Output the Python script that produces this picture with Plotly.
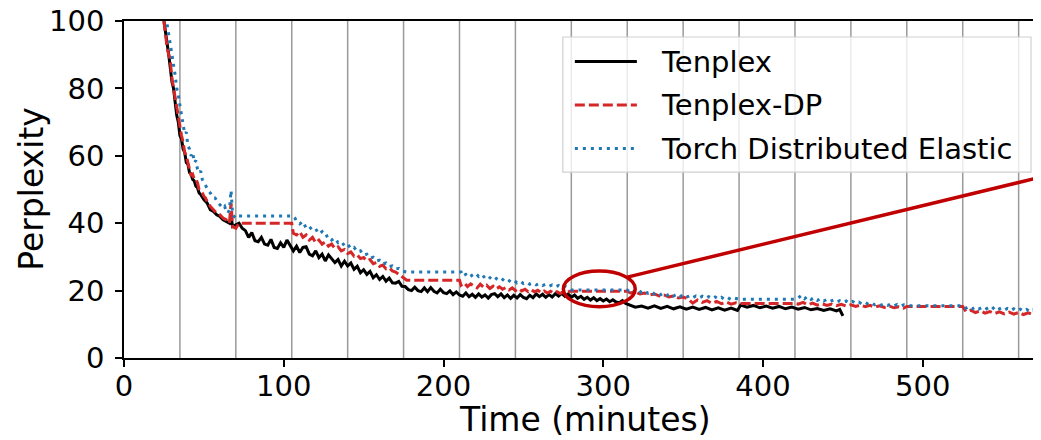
import plotly.graph_objects as go

# Perplexity over time
tenplex_t = [25, 26, 27, 28, 29, 30, 31, 32, 33, 34, 35, 36, 37, 38, 39, 40, 41, 42, 43, 44,
             45, 46, 47, 48, 49, 50, 52, 54, 56, 58, 60, 62, 64, 66, 67, 68, 70,
             72, 74, 76, 78, 80, 82, 84, 86, 88, 90, 92, 94, 96, 98, 100, 102, 104, 106, 108,
             110, 112, 114, 116, 118, 120, 122, 124, 126, 128, 130, 132, 134, 136, 138, 140,
             142, 144, 146, 148, 150, 152, 154, 156, 158, 160, 162, 164, 166, 168, 170, 172,
             174, 176, 178, 180, 182, 184, 186, 188, 190, 192, 194, 196, 198, 200, 202, 204,
             206, 208, 210, 212, 214, 216, 218, 220, 222, 224, 226, 228, 230, 232, 234, 236,
             238, 240, 242, 244, 246, 248, 250, 252, 254, 256, 258, 260, 262, 264, 266, 268,
             270, 272, 274, 276, 278, 280, 282, 284, 286, 288, 290, 292, 294, 296, 298, 300,
             302, 304, 306, 308, 310, 312, 314, 316, 318, 320,
             324, 328, 332, 336, 340, 344, 348, 352, 356, 360, 364, 368, 372, 376, 380, 384,
             386, 390, 394, 398, 402, 406, 410, 414, 418, 422, 426, 430, 434, 438, 442, 446,
             448, 450]
tenplex_ppl = [100, 97, 93, 90, 86, 82, 80, 76, 72, 70, 66, 65, 62, 61, 58, 57.5, 55, 54.5, 53, 52.5,
               51, 50.5, 49, 48.5, 47.5, 47, 46, 44, 43.5, 42.5, 42, 41, 40.5, 40, 42, 39, 39.5,
               40, 38.5, 37.8, 35.8, 37.2, 34.8, 34.5, 35.8, 33.8, 33.5, 35.2, 32.8, 32.5, 34.2, 32.8, 35, 33.2, 31.8, 33.2,
               31.3, 32.8, 33, 30.8, 30.3, 31.8, 29.8, 30.8, 28.8, 30.6, 29.3, 28.3, 29.2, 27.3, 28.7, 27.3,
               28.2, 26.3, 27.2, 25.3, 26.2, 24.8, 25.7, 23.8, 24.7, 23.3, 24.2, 22.8, 23.7, 22.3, 22.2, 22.7,
               21.3, 21.2, 20.3, 20, 21, 20, 19.7, 20.8, 19.7, 20.9, 19.8, 19.3, 20.4, 19.4, 19.1, 19.9,
               18.8, 19.6, 18.7, 18.3, 19.3, 18.2, 18.9, 18, 19, 18.1, 18.7, 17.8, 18.8, 19.1, 18.2, 19,
               17.9, 18.7, 17.7, 18.6, 17.8, 18.8, 18, 17.6, 18.6, 17.9, 19, 18.2, 18.9, 18, 18.8, 18.1,
               19.1, 18.4, 19.2, 18.3, 19, 18, 18.7, 17.7, 18.3, 17.4, 18, 17.2, 17.9, 17, 17.6, 16.9,
               17.5, 16.7, 17.3, 16.6, 16.4, 17, 16.2, 15.8, 15.4, 15.1,
               15.4, 14.8, 15.5, 14.7, 15.3, 14.6, 15.2, 14.5, 15.1, 14.4, 15.0, 14.3, 14.9, 14.2, 14.8, 14.1,
               15.7, 15.1, 15.6, 14.9, 15.4, 14.8, 15.3, 14.6, 15.1, 14.5, 15.0, 14.3, 14.7, 14.1, 14.6, 14.0,
               14.4, 12.5]

dp_t = [25, 26, 27, 28, 29, 30, 31, 32, 33, 34, 35, 36, 37, 38, 39, 40, 41, 42, 43, 44,
        45, 46, 47, 48, 49, 50, 51, 52, 54, 56, 58, 60, 62, 64, 66, 67, 68, 70, 72,
        73, 105,
        106, 108, 110, 112, 114, 116, 118, 120, 122, 124, 126, 128, 130, 132, 134, 136, 138, 140,
        142, 144, 146, 148, 150, 152, 154, 156, 158, 160, 162, 164, 166, 168, 170, 172, 174, 176,
        177, 210,
        211, 213, 215, 217, 219, 221, 223, 225, 227, 229, 231, 233, 235, 237, 239, 241, 243, 245,
        247, 249, 251, 253, 255, 257, 259, 261, 263, 265, 267, 269, 271, 273, 275, 277, 279,
        280, 315,
        317, 320, 323, 326, 329, 332, 335, 338, 341, 344, 347, 350, 353, 356, 359, 362, 365, 368,
        371, 374, 377, 380, 383,
        385, 420,
        422, 425, 428, 431, 434, 437, 440, 443, 446, 449, 452, 455, 458, 461, 464, 467, 470, 473,
        476, 479, 482, 485, 488,
        490, 525,
        527, 530, 533, 536, 539, 542, 545, 548, 551, 554, 557, 560, 563, 566, 569, 572, 575]
dp_ppl = [100, 96, 92, 90, 88, 83, 80, 78, 74, 71, 68, 66, 64, 61, 60, 58, 56, 54, 54.5, 53,
          53, 52, 50, 49.5, 49, 48, 47.5, 46.5, 45, 44, 43, 42.5, 41.5, 41, 40, 46, 39, 38.5, 40,
          40, 40,
          37, 36.5, 37.5, 35.8, 36.5, 35, 35.8, 34.2, 35, 33.8, 34.5, 33.2, 33.8, 32.5, 33, 31.8, 32.2, 31,
          31.5, 30.2, 30.6, 29.5, 29.8, 28.8, 29.2, 28, 28.3, 27.2, 27.6, 26.5, 26.8, 25.8, 25.5, 24.8, 24.2, 23.4,
          23.1, 23.1,
          21.6, 22.3, 21.2, 22, 21.4, 20.8, 21.9, 21, 21.6, 20.6, 21.3, 20.5, 21.1, 20.4, 20.9, 20.2, 20.8, 20.0,
          20.6, 19.9, 20.4, 19.7, 20.3, 19.6, 20.1, 19.4, 19.9, 19.3, 19.8, 19.2, 19.7, 19.1, 19.6, 19.3, 19.8,
          19.8, 19.8,
          19.3, 19.6, 19, 19.3, 18.7, 19, 18.4, 18.7, 18.1, 18.4, 17.8, 18.1, 17.5, 16.3, 17.2, 16.5, 17, 16.2,
          16.8, 16.1, 16.6, 16, 16.4,
          16.2, 16.2,
          16.0, 16.5, 15.8, 16.3, 15.7, 16.1, 15.6, 16.0, 15.5, 15.9, 15.4, 15.8, 15.3, 15.7, 15.2, 15.6, 15.1, 15.5,
          15.0, 15.4, 14.9, 15.2, 14.8,
          15.3, 15.3,
          13.8, 14.2, 13.5, 14.0, 13.3, 13.8, 13.2, 13.7, 13.1, 13.6, 13.0, 13.5, 12.9, 13.4, 12.8, 13.3, 13.0]

tde_t = [27, 28, 29, 30, 31, 32, 33, 34, 35, 36, 37, 38, 39, 40, 41, 42, 43, 44, 45, 46,
         47, 48, 49, 50, 51, 52, 53, 54, 55, 56, 57, 58, 59, 60, 61, 62, 63, 64, 65, 66,
         67, 68, 69, 70, 71,
         106,
         107, 108, 110, 112, 114, 116, 118, 120, 122, 124, 126, 128, 130, 132, 134, 136, 138, 140,
         142, 144, 146, 148, 150, 152, 154, 156, 158, 160, 162, 164, 166, 168, 170, 172, 174, 176,
         177, 211,
         212, 214, 216, 218, 220, 222, 224, 226, 228, 230, 232, 234, 236, 238, 240, 242, 244, 246,
         248, 250, 252, 254, 256, 258, 260, 262, 264, 266, 268, 270, 272, 274, 276, 278,
         280, 315,
         316, 318, 320, 322, 324, 326, 328, 330, 332, 334, 336, 338, 340, 342, 344, 346, 348, 350,
         352, 354, 356, 358, 360, 362, 364, 366, 368, 370, 372, 374, 376, 378, 380, 382, 384,
         385, 420,
         422, 424, 426, 428, 430, 432, 434, 436, 438, 440, 442, 444, 446, 448, 450, 452, 454, 456,
         458, 460, 462, 464, 466, 468, 470, 472, 474, 476, 478, 480, 482, 484, 486, 488,
         490, 525,
         527, 529, 531, 533, 535, 537, 539, 541, 543, 545, 547, 549, 551, 553, 555, 557, 559, 561,
         563, 565, 567, 569, 571, 573, 575]
tde_ppl = [99, 96, 93, 91, 87, 84, 80, 78, 75, 72, 70, 66.5, 67, 63, 62, 60, 61, 58, 58.6, 56,
           55, 55.5, 53, 52, 51, 50.5, 49.5, 49, 48, 47.5, 47.5, 46.5, 46, 45.5, 45, 44.5, 45, 43.5, 43, 44,
           49.7, 42.5, 42, 41.5, 42.1,
           42.1,
           41.5, 40.5, 39.8, 40.5, 38.5, 39, 37.9, 38.3, 36.8, 37.5, 36, 36.4, 35, 35.6, 34.2, 34.6, 33.3, 33.8,
           32.4, 32.8, 31.5, 31.8, 30.5, 30.8, 29.6, 29.9, 28.8, 29, 27.9, 28.2, 27.1, 27.3, 26.4, 26.6, 25.8, 25.6,
           25.5, 25.5,
           24.3, 24.8, 23.9, 24.6, 25.2, 24.2, 24.8, 23.7, 24.3, 23.4, 24, 23.2, 23.7, 22.9, 23.4, 22.6, 23.1, 22.3,
           22.8, 22.1, 22.5, 21.9, 22.3, 21.7, 22.1, 21.5, 21.9, 21.3, 21.7, 21.1, 21.5, 20.9, 21.3, 20.7,
           20.2, 20.2,
           19.9, 20.5, 19.6, 20.2, 19.4, 19.9, 19.2, 19.7, 19.0, 19.5, 18.8, 19.3, 18.6, 19.1, 18.4, 18.9, 18.2, 18.7,
           18.0, 18.5, 17.9, 18.4, 17.8, 18.3, 17.7, 18.2, 17.6, 18.1, 17.5, 18.0, 17.4, 17.9, 17.3, 17.8, 17.5,
           17.4, 17.4,
           17.8, 18.6, 17.6, 18.3, 17.4, 17.9, 17.1, 17.6, 16.9, 17.4, 16.8, 17.2, 16.6, 17.0, 16.5, 16.9, 16.3, 16.8,
           16.2, 16.6, 16.0, 16.5, 15.9, 16.3, 15.8, 16.2, 15.7, 16.1, 15.6, 16.0, 15.5, 15.9, 15.4, 15.8,
           15.5, 15.5,
           14.8, 15.3, 14.6, 15.1, 14.5, 15.0, 14.4, 14.9, 14.3, 15.2, 14.4, 14.8, 14.2, 14.7, 14.1, 14.6, 14.0, 14.5,
           13.9, 14.4, 13.8, 14.3, 13.9, 14.2, 14.0]

# reconfiguration marks (minutes)
scale_events = [35, 70, 105, 140, 175, 210, 245, 280, 315, 350, 385, 420, 455, 490, 525, 560]

x_ticks = [0, 100, 200, 300, 400, 500]
y_ticks = [0, 20, 40, 60, 80, 100]

legend_names = ["Tenplex", "Tenplex-DP", "Torch Distributed Elastic"]
colors = ["#000000", "#d62728", "#1f77b4"]
dashes = ["solid", "10px,4px", "3px,5px"]

FONT = "DejaVu Sans"
ZOOM_RED = "#c00000"

fig = go.Figure()

series = [(tenplex_t, tenplex_ppl), (dp_t, dp_ppl), (tde_t, tde_ppl)]
for (t, ppl), name, c, d in zip(series, legend_names, colors, dashes):
    fig.add_trace(go.Scatter(x=t, y=ppl, mode="lines", name=name,
                             line=dict(color=c, width=3, dash=d),
                             showlegend=False))

shapes = []
for ev in scale_events:
    shapes.append(dict(type="line", xref="x", yref="paper", x0=ev, x1=ev, y0=0, y1=1,
                       line=dict(color="rgba(120,120,120,0.75)", width=1.5), layer="below"))

# zoom-in ellipse and pointer line
shapes.append(dict(type="circle", xref="x", yref="y", x0=275, x1=320, y0=15.2, y1=25.8,
                   line=dict(color=ZOOM_RED, width=3.5)))
shapes.append(dict(type="line", xref="x", yref="y", x0=315, y0=24.0, x1=574, y1=53.7,
                   line=dict(color=ZOOM_RED, width=3.5)))

# page body has an 8px margin, so the figure is shrunk by that much and
# everything below is given in window pixels
OFF = 8
WIN_W, WIN_H = 1041, 440
L, T, BOT = 124.3, 21.0, 357.7
PW, PH = WIN_W - L, BOT - T


def px_x(p):
    return (p - L) / PW


def px_y(p):
    return (BOT - p) / PH


# legend drawn by hand (paper coords) to match the longer matplotlib handles
shapes.append(dict(type="rect", xref="paper", yref="paper",
                   x0=px_x(563), x1=px_x(1031), y0=px_y(172), y1=px_y(37),
                   fillcolor="rgba(255,255,255,0.8)", line=dict(color="#d0d0d0", width=1.2),
                   layer="above"))
annotations = []
rows = [61.5, 105, 148.5]
for name, c, d, ry in zip(legend_names, colors, dashes, rows):
    shapes.append(dict(type="line", xref="paper", yref="paper",
                       x0=px_x(575), x1=px_x(637), y0=px_y(ry), y1=px_y(ry),
                       line=dict(color=c, width=3, dash=d), layer="above"))
    annotations.append(dict(text=name, xref="paper", yref="paper", x=px_x(659), y=px_y(ry),
                            xanchor="left", yanchor="middle", showarrow=False,
                            font=dict(family=FONT, size=29, color="black")))

# axis titles
annotations.append(dict(text="Time (minutes)", xref="paper", yref="paper",
                        x=px_x(585), y=px_y(419), xanchor="center", yanchor="middle",
                        showarrow=False, font=dict(family=FONT, size=33, color="black")))
annotations.append(dict(text="Perplexity", xref="paper", yref="paper", textangle=-90,
                        x=px_x(31), y=px_y(189), xanchor="center", yanchor="middle",
                        showarrow=False, font=dict(family=FONT, size=33, color="black")))

fig.update_layout(
    width=WIN_W - OFF, height=WIN_H - OFF,
    margin=dict(l=L - OFF, r=0, t=T - OFF, b=WIN_H - BOT, autoexpand=False),
    plot_bgcolor="white", paper_bgcolor="white",
    font=dict(family=FONT, color="black"),
    shapes=shapes, annotations=annotations,
    showlegend=False,
)
fig.update_xaxes(range=[0, 574], tickvals=x_ticks, showgrid=False, zeroline=False,
                 showline=True, mirror=True, linecolor="black", linewidth=1.5,
                 ticks="outside", ticklen=7, tickwidth=1.5, tickcolor="black",
                 tickfont=dict(family=FONT, size=29), automargin=False,
                 ticklabelstandoff=-6, ticklabeloverflow="allow")
fig.update_yaxes(range=[0, 100], tickvals=y_ticks, showgrid=False, zeroline=False,
                 showline=True, linecolor="black", linewidth=1.5,
                 ticks="outside", ticklen=7, tickwidth=1.5, tickcolor="black",
                 tickfont=dict(family=FONT, size=29), automargin=False,
                 ticklabelstandoff=5, ticklabeloverflow="allow")

fig.write_html("out.html")
